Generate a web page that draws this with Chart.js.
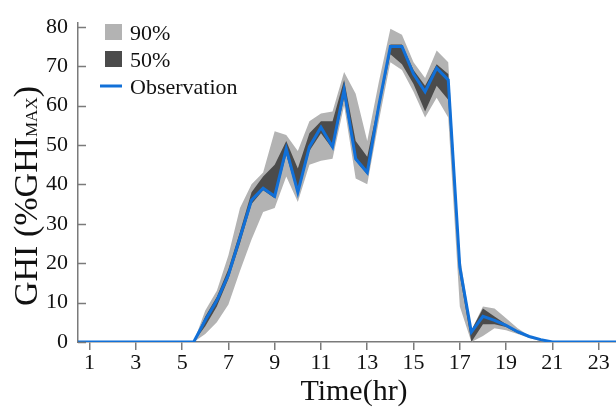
<!DOCTYPE html>
<html>
<head>
<meta charset="utf-8">
<script src="https://cdn.jsdelivr.net/npm/chart.js@4"></script>
<style>
  body { margin: 0; background: #fff; }
  canvas { display: block; }
</style>
</head>
<body>
<canvas id="ghiChart" width="616" height="411"></canvas>
<script>
// half-hourly time stamps (hr)
const hours = [0.5, 1, 1.5, 2, 2.5, 3, 3.5, 4, 4.5, 5, 5.5,
  6, 6.5, 7, 7.5, 8, 8.5, 9, 9.5, 10, 10.5, 11, 11.5, 12, 12.5, 13, 13.5,
  14, 14.5, 15, 15.5, 16, 16.5, 17, 17.5, 18, 18.5, 19, 19.5, 20, 20.5, 21,
  21.5, 22, 22.5, 23, 23.5, 24];

// GHI in % of GHI max
const observation = [0, 0, 0, 0, 0, 0, 0, 0, 0, 0, 0,
  5.5, 10.5, 17, 26.5, 36, 39, 37, 49, 38, 49.5, 54.5, 49.5, 64, 46.5, 43, 60,
  75, 75, 68, 63.5, 69.5, 66.5, 19, 2.5, 6.5, 5.5, 4.2, 2.6, 1.4, 0.6, 0,
  0, 0, 0, 0, 0, 0];

const band50Upper = [0, 0, 0, 0, 0, 0, 0, 0, 0, 0, 0,
  6.5, 11.5, 18.5, 28, 38, 42, 45, 51, 44, 53, 56, 56, 66.5, 51, 47, 61,
  75.5, 75.5, 69, 65, 70.5, 68, 20, 3, 8.5, 6.5, 4.5, 2.6, 1.4, 0.6, 0,
  0, 0, 0, 0, 0, 0];
const band50Lower = [0, 0, 0, 0, 0, 0, 0, 0, 0, 0, 0,
  4, 9, 16, 25, 35, 38.5, 36.5, 47.5, 37.5, 48.5, 53, 49, 62, 46, 42.5, 59,
  73, 70.5, 65.5, 58.5, 65, 61.5, 17, 0, 4.5, 4.5, 3.8, 2.2, 1.2, 0.4, 0,
  0, 0, 0, 0, 0, 0];

const band90Upper = [0, 0, 0, 0, 0, 0, 0, 0, 0, 0, 0,
  8, 13, 22, 34, 40, 43, 53.5, 52.5, 48.5, 56, 58, 58.5, 68.5, 63, 51, 66,
  79.5, 78, 71, 67, 74, 71, 22, 3, 9, 8.5, 6, 3.5, 1.6, 0.7, 0,
  0, 0, 0, 0, 0, 0];
const band90Lower = [0, 0, 0, 0, 0, 0, 0, 0, 0, 0, 0,
  2, 5, 9.5, 18, 26, 33, 34, 42, 35.5, 45, 46, 46.5, 60, 41.5, 40, 56,
  71, 69, 63.5, 57, 62, 57, 9, 0, 1.5, 3.5, 3, 2, 1, 0.2, 0,
  0, 0, 0, 0, 0, 0];

const xTicks = [1, 3, 5, 7, 9, 11, 13, 15, 17, 19, 21, 23];
const yTicks = [0, 10, 20, 30, 40, 50, 60, 70, 80];

const legendItems = [
  { text: "90%", type: "box", color: "#b3b3b3" },
  { text: "50%", type: "box", color: "#4b4b4b" },
  { text: "Observation", type: "line", color: "#1170d8" },
];

const serif = "'Liberation Serif', 'Times New Roman', serif";
const axisColor = "#7a7a7a";

const toPoints = (vals) => vals.map((v, i) => ({ x: hours[i], y: v }));

// inside tick marks on y, axis titles and the legend
const decorations = {
  id: "decorations",
  afterDraw(chart) {
    const { ctx, chartArea, scales } = chart;
    ctx.save();

    // y tick marks pointing into the plot
    ctx.strokeStyle = axisColor;
    ctx.lineWidth = 1.5;
    yTicks.forEach(v => {
      const y = Math.round(scales.y.getPixelForValue(v)) + 0.5;
      ctx.beginPath();
      ctx.moveTo(chartArea.left, y);
      ctx.lineTo(chartArea.left + 8, y);
      ctx.stroke();
    });

    // x title
    ctx.fillStyle = "#111";
    ctx.font = "30px " + serif;
    ctx.textAlign = "center";
    ctx.textBaseline = "alphabetic";
    ctx.fillText("Time(hr)", 354, 400);

    // y title with subscript
    const big = "34px " + serif;
    const small = "17px " + serif;
    const parts = [["GHI (%GHI", big], ["MAX", small], [")", big]];
    let total = 0;
    parts.forEach(p => { ctx.font = p[1]; total += ctx.measureText(p[0]).width; });
    ctx.translate(37, 196);
    ctx.rotate(-Math.PI / 2);
    ctx.textAlign = "left";
    let x = -total / 2;
    parts.forEach(p => {
      ctx.font = p[1];
      ctx.fillText(p[0], x, 0);
      x += ctx.measureText(p[0]).width;
    });
    ctx.setTransform(1, 0, 0, 1, 0, 0);

    // legend
    ctx.font = "22px " + serif;
    ctx.textAlign = "left";
    legendItems.forEach((item, i) => {
      const cy = 32 + i * 27;
      if (item.type === "box") {
        ctx.fillStyle = item.color;
        ctx.fillRect(105, cy - 8, 17, 16);
      } else {
        ctx.strokeStyle = item.color;
        ctx.lineWidth = 3;
        ctx.beginPath();
        ctx.moveTo(100, cy);
        ctx.lineTo(122, cy);
        ctx.stroke();
      }
      ctx.fillStyle = "#111";
      ctx.fillText(item.text, 130, cy + 8);
    });

    ctx.restore();
  },
};

new Chart(document.getElementById("ghiChart"), {
  type: "line",
  data: {
    datasets: [
      {
        label: "Observation",
        data: toPoints(observation),
        borderColor: "#1170d8",
        borderWidth: 3,
        pointRadius: 0,
        tension: 0,
        fill: false,
      },
      {
        label: "50%",
        data: toPoints(band50Upper),
        borderWidth: 0,
        pointRadius: 0,
        backgroundColor: "#4b4b4b",
        fill: "+1",
      },
      {
        label: "50% lower",
        data: toPoints(band50Lower),
        borderWidth: 0,
        pointRadius: 0,
        fill: false,
      },
      {
        label: "90%",
        data: toPoints(band90Upper),
        borderWidth: 0,
        pointRadius: 0,
        backgroundColor: "#b3b3b3",
        fill: "+1",
      },
      {
        label: "90% lower",
        data: toPoints(band90Lower),
        borderWidth: 0,
        pointRadius: 0,
        fill: false,
      },
    ],
  },
  options: {
    responsive: false,
    animation: false,
    layout: { padding: { top: 17, right: 0, bottom: 0, left: 0 } },
    plugins: {
      legend: { display: false },
      tooltip: { enabled: false },
    },
    scales: {
      x: {
        type: "linear",
        min: 0.5,
        max: 23.75,
        afterBuildTicks: (scale) => {
          scale.ticks = xTicks.map(v => ({ value: v }));
        },
        afterFit: (scale) => { scale.height = 69; },
        grid: {
          drawOnChartArea: false,
          drawTicks: true,
          tickLength: 8,
          color: axisColor,
          lineWidth: 1.5,
        },
        border: { display: true, color: axisColor, width: 1.5 },
        ticks: {
          color: "#111",
          padding: 0,
          maxRotation: 0,
          autoSkip: false,
          font: { family: serif, size: 22 },
        },
      },
      y: {
        min: 0,
        max: 80.9,
        afterBuildTicks: (scale) => {
          scale.ticks = yTicks.map(v => ({ value: v }));
        },
        afterFit: (scale) => { scale.width = 78; },
        grid: { drawOnChartArea: false, drawTicks: false },
        border: { display: true, color: axisColor, width: 1.5 },
        ticks: {
          color: "#111",
          padding: 10,
          font: { family: serif, size: 22 },
        },
      },
    },
  },
  plugins: [decorations],
});
</script>
</body>
</html>
